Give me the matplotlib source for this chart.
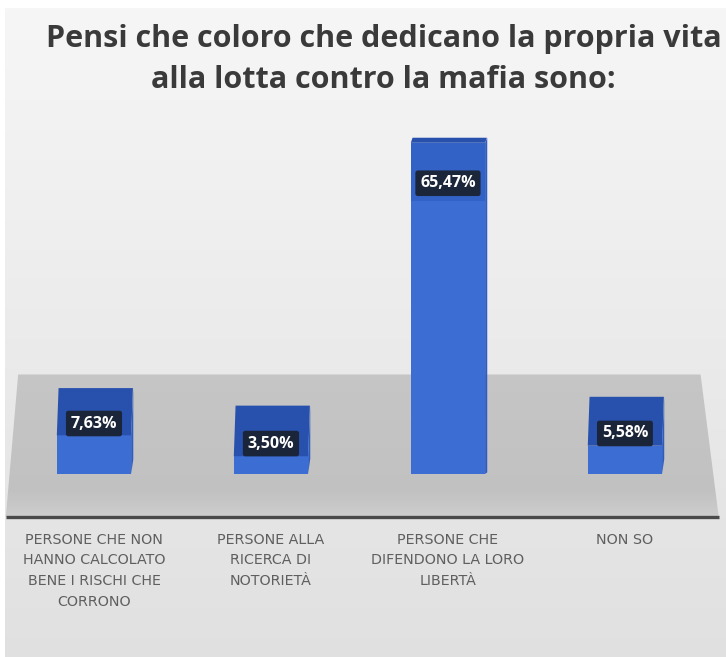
import matplotlib
matplotlib.use("Agg")
import matplotlib.pyplot as plt
import numpy as np
from matplotlib.patches import Polygon, Rectangle

categories = [
    "PERSONE CHE NON\nHANNO CALCOLATO\nBENE I RISCHI CHE\nCORRONO",
    "PERSONE ALLA\nRICERCA DI\nNOTORIETÀ",
    "PERSONE CHE\nDIFENDONO LA LORO\nLIBERTÀ",
    "NON SO",
]
values = [7.63, 3.50, 65.47, 5.58]
value_labels = ["7,63%", "3,50%", "65,47%", "5,58%"]
title = "Pensi che coloro che dedicano la propria vita\nalla lotta contro la mafia sono:"

W, H = 726, 657
fig = plt.figure(figsize=(W / 100, H / 100), dpi=100)
fig.patch.set_facecolor("white")
ax = fig.add_axes([0, 0, 1, 1])
ax.set_xlim(-0.531, 3.571)
ax.set_ylim(-36.2, 93.7)
ax.axis("off")

# background panel: light gray with a soft vertical gradient, white margin top/left
t = np.linspace(0, 1, 256)
bg = np.empty((256, 1, 3))
for i in range(3):
    bg[:, 0, i] = 0.965 - 0.085 * t
ax.imshow(bg, extent=[0.007, 1, 0, 0.988], transform=ax.transAxes, aspect="auto",
          zorder=0, interpolation="bilinear")
ax.add_patch(Rectangle((0, 0.988), 1, 0.012, transform=ax.transAxes,
                       facecolor="white", edgecolor="none", zorder=0.5))
ax.add_patch(Rectangle((0, 0), 0.007, 1, transform=ax.transAxes,
                       facecolor="white", edgecolor="none", zorder=0.5))

# floor plane (perspective trapezoid) with gradient shading
floor_back, floor_front = 0.43, 0.213
floor = Polygon([[0.025, floor_back], [0.965, floor_back], [0.99, floor_front],
                 [0.008, floor_front]], closed=True, transform=ax.transAxes,
                facecolor="none", edgecolor="none", zorder=1)
ax.add_patch(floor)
ft = np.linspace(0, 1, 128)
fg = np.empty((128, 1, 3))
for i in range(3):
    shade = 0.775 - 0.02 * ft
    shade = np.where(ft > 0.82, shade + 0.05 * (ft - 0.82) / 0.18, shade)
    fg[:, 0, i] = shade
im = ax.imshow(fg, extent=[0, 1, floor_front, floor_back], transform=ax.transAxes,
               aspect="auto", zorder=1, interpolation="bilinear")
im.set_clip_path(floor)
ax.plot([0.008, 0.99], [floor_front, floor_front], transform=ax.transAxes,
        color="#4a4a4a", lw=2.4, zorder=2, solid_capstyle="butt")

# 3D-looking bars: front face plus a receding top face
front_c = "#3c6dd2"
top_c = "#2850ad"
side_c = "#2f5cc0"
bar_w = 0.42
eye = 66.0
k = 0.16
x = np.arange(len(values))
for xi, v, lab in zip(x, values, value_labels):
    depth = max(k * (eye - v), 1.0)
    l, r = xi - bar_w / 2, xi + bar_w / 2
    ax.bar(xi, v, width=bar_w, color=front_c, zorder=3)
    ax.add_patch(Polygon([[l, v], [r, v], [r + 0.01, v + depth], [l + 0.01, v + depth]],
                         closed=True, facecolor=top_c, edgecolor="none", zorder=3))
    ax.add_patch(Polygon([[r, 0], [r + 0.012, depth * 0.3], [r + 0.012, v + depth], [r, v]],
                         closed=True, facecolor=side_c, edgecolor="none", zorder=3))
    if v > 20:
        ax.add_patch(Rectangle((l, v - 11.5), bar_w, 11.5, facecolor="#3262c6",
                               edgecolor="none", zorder=3.1))
        ly = v - 8
    else:
        ly = v + depth * 0.25
    ax.text(xi, ly, lab, ha="center", va="center", color="white", fontsize=11.5,
            fontweight="bold", family="Open Sans", zorder=5,
            bbox=dict(boxstyle="round,pad=0.3,rounding_size=0.15", fc="#1b2333",
                      ec="none", alpha=0.95))

# category labels under the floor
for xi, c in zip(x, categories):
    ax.text(xi, -11.6, c, ha="center", va="top", color="#5f5f5f", fontsize=10.3,
            family="DejaVu Sans", linespacing=1.62, zorder=4)

fig.text(0.528, 0.963, title, ha="center", va="top", fontsize=22,
         fontweight="bold", family="Open Sans", color="#3a3a3a", linespacing=1.48)

fig.savefig("out.png", dpi=100)
